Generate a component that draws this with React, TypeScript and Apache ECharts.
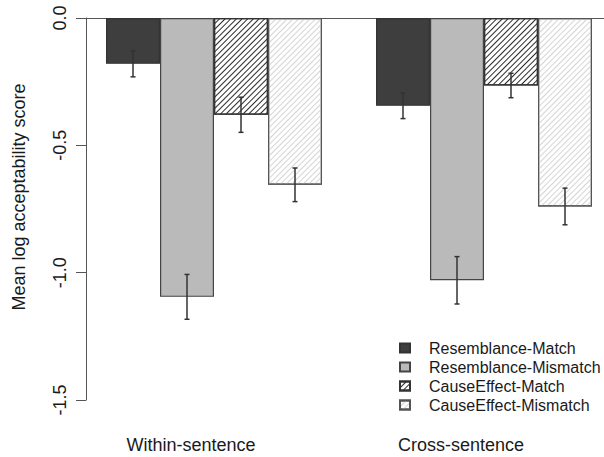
import React, { useEffect, useRef } from "react";
import * as echarts from "echarts";

const categories = ["Within-sentence", "Cross-sentence"];
const seriesNames = [
  "Resemblance-Match",
  "Resemblance-Mismatch",
  "CauseEffect-Match",
  "CauseEffect-Mismatch",
];
const resMatch = [-0.18, -0.345];
const resMismatch = [-1.095, -1.03];
const ceMatch = [-0.38, -0.265];
const ceMismatch = [-0.655, -0.74];
const resMatchSE = [0.051, 0.05];
const resMismatchSE = [0.088, 0.093];
const ceMatchSE = [0.069, 0.048];
const ceMismatchSE = [0.066, 0.072];
const yTicks = [0, -0.5, -1, -1.5];

const FONT = "'Liberation Sans', Arial, Helvetica, sans-serif";

export default function App() {
  const ref = useRef<HTMLDivElement>(null);
  useEffect(() => {
    if (!ref.current) return;
    const chart = echarts.init(ref.current, undefined, { renderer: "svg" });
    const means = [resMatch, resMismatch, ceMatch, ceMismatch];
    const ses = [resMatchSE, resMismatchSE, ceMatchSE, ceMismatchSE];
    const styles: any[] = [
      { color: "#3e3e3e", borderColor: "#333", borderWidth: 1.2 },
      { color: "#bababa", borderColor: "#444", borderWidth: 1.2 },
      {
        color: "#ffffff",
        borderColor: "#333",
        borderWidth: 1.2,
        decal: {
          symbol: "rect",
          symbolSize: 1,
          color: "#2a2a2a",
          dashArrayX: [1, 0],
          dashArrayY: [1, 2.6],
          rotation: -Math.PI / 4,
        },
      },
      {
        color: "#ffffff",
        borderColor: "#555",
        borderWidth: 1.2,
        decal: {
          symbol: "rect",
          symbolSize: 1,
          color: "#d4d4d4",
          dashArrayX: [1, 0],
          dashArrayY: [1, 3],
          rotation: -Math.PI / 4,
        },
      },
    ];
    const errData: number[][] = [];
    means.forEach((m, si) =>
      m.forEach((v, ci) => errData.push([ci, v, ses[si][ci], si]))
    );
    const barSeries = seriesNames.map((name, si) => ({
      name,
      type: "bar",
      data: means[si],
      barGap: "0%",
      barCategoryGap: "20%",
      itemStyle: styles[si],
      emphasis: { disabled: true },
      z: 2,
    }));
    chart.setOption({
      animation: false,
      grid: { left: 79, width: 540, top: 18, bottom: 57 },
      legend: {
        orient: "vertical",
        left: 394,
        top: 335,
        itemWidth: 10,
        itemHeight: 9,
        itemGap: 3,
        icon: "rect",
        data: seriesNames,
        selectedMode: false,
        formatter: (name: string) => `{t|${name}}`,
        textStyle: {
          fontSize: 16,
          fontFamily: FONT,
          color: "#1a1a1a",
          rich: {
            t: {
              fontSize: 16,
              fontFamily: FONT,
              color: "#1a1a1a",
              padding: [0, 0, 0, 14],
            },
          },
        },
      },
      xAxis: [
        {
          type: "category",
          data: categories,
          position: "bottom",
          axisLine: { show: false },
          axisTick: { show: false },
          axisLabel: {
            fontSize: 18,
            fontFamily: FONT,
            color: "#1a1a1a",
            margin: 36,
            padding: [0, 46, 0, 0],
          },
        },
        {
          type: "category",
          data: categories,
          position: "top",
          axisLine: { show: true, onZero: false, lineStyle: { color: "#555", width: 1 } },
          axisTick: { show: false },
          axisLabel: { show: false },
        },
      ],
      yAxis: {
        type: "value",
        min: yTicks[yTicks.length - 1],
        max: yTicks[0],
        interval: 0.5,
        offset: -7,
        name: "Mean log acceptability score",
        nameLocation: "middle",
        nameGap: 58,
        nameTextStyle: {
          fontSize: 18,
          fontFamily: FONT,
          color: "#1a1a1a",
          padding: [0, 0, 0, 24],
        },
        axisLine: { show: true, lineStyle: { color: "#555", width: 1 } },
        axisTick: { show: true, length: 10, lineStyle: { color: "#555" } },
        splitLine: { show: false },
        axisLabel: {
          rotate: 90,
          margin: 17,
          fontSize: 18,
          fontFamily: FONT,
          color: "#1a1a1a",
          formatter: (v: number) => v.toFixed(1),
        },
      },
      series: [
        ...barSeries,
        {
          name: "err",
          type: "custom",
          silent: true,
          z: 10,
          encode: { x: 0, y: 1 },
          data: errData,
          renderItem: (params: any, api: any) => {
            const ci = api.value(0);
            const m = api.value(1);
            const se = api.value(2);
            const si = api.value(3);
            const band = api.size([1, 0])[0];
            const bw = (band * 0.8) / 4;
            const xOff = (si - 1.5) * bw;
            const top = api.coord([ci, m + se]);
            const bot = api.coord([ci, m - se]);
            const x = top[0] + xOff;
            const st = { stroke: "#333", lineWidth: 1.5 };
            return {
              type: "group",
              children: [
                { type: "line", shape: { x1: x, y1: top[1], x2: x, y2: bot[1] }, style: st },
                { type: "line", shape: { x1: x - 2.5, y1: top[1], x2: x + 2.5, y2: top[1] }, style: st },
                { type: "line", shape: { x1: x - 2.5, y1: bot[1], x2: x + 2.5, y2: bot[1] }, style: st },
              ],
            };
          },
        },
      ],
    });
    return () => chart.dispose();
  }, []);
  return (
    <div
      style={{
        position: "absolute",
        left: 0,
        top: 0,
        width: 604,
        height: 457,
        overflow: "hidden",
        background: "#fff",
      }}
    >
      <div ref={ref} style={{ width: 625, height: 457 }} />
    </div>
  );
}
